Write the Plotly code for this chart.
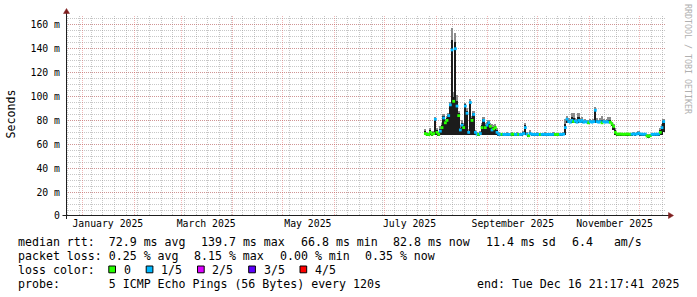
import plotly.graph_objects as go
import pandas as pd

# ---------------- data ----------------
first_day = "2025-07-25 12:00"

rtt_median = [
    69.0, 68.3, 68.2, 70.0, 68.4, 69.0, 81.0, 70.0, 68.3, 71.0,
    74.0, 82.0, 78.0, 80.0, 84.0, 93.0, 139.0, 96.0, 140.0, 92.0,
    84.0, 72.0, 76.0, 74.0, 92.0, 86.0, 70.0, 95.0, 80.0, 85.0,
    70.0, 68.5, 68.3, 69.0, 74.0, 80.0, 74.0, 76.0, 78.0, 75.0,
    72.0, 73.0, 74.0, 70.0, 68.4, 68.3, 68.4, 68.3, 68.2, 68.4,
    68.3, 68.3, 68.4, 68.5, 68.3, 68.4, 68.3, 68.2, 68.4, 69.0,
    74.0, 68.5, 67.2, 69.0, 68.3, 68.4, 68.3, 68.4, 68.3, 68.2,
    68.3, 68.4, 68.3, 68.3, 68.4, 68.2, 68.3, 68.4, 68.3, 68.2,
    68.3, 68.4, 68.3, 68.5, 74.0, 81.0, 79.0, 78.5, 80.0, 79.0,
    79.5, 78.5, 80.0, 79.0, 80.0, 78.5, 79.0, 78.5, 78.0, 79.0,
    78.5, 79.0, 88.5, 79.0, 78.5, 79.0, 78.0, 79.0, 78.5, 79.0,
    78.5, 78.5, 77.0, 75.0, 70.0, 68.6, 68.5, 68.6, 68.5, 68.4,
    68.5, 68.6, 68.5, 68.4, 68.5, 68.6, 68.5, 68.7, 69.3, 68.6,
    68.5, 68.4, 68.5, 67.0, 66.8, 67.2, 68.3, 68.4, 68.5, 68.4,
    68.6, 70.0, 74.0, 79.0,
]

rtt_max = [
    73.0, 70.0, 69.5, 74.0, 69.5, 71.0, 83.0, 74.0, 70.0, 75.0,
    78.0, 85.0, 81.0, 84.0, 86.0, 95.5, 157.0, 104.0, 153.0, 101.0,
    88.0, 76.0, 80.0, 78.0, 95.0, 90.0, 73.0, 98.0, 84.0, 88.0,
    72.0, 70.0, 69.5, 71.0, 78.0, 83.0, 78.0, 79.0, 80.0, 78.0,
    77.0, 76.0, 77.0, 74.0, 70.0, 69.5, 69.5, 69.5, 69.5, 70.0,
    69.5, 69.5, 70.0, 69.5, 69.5, 70.0, 69.5, 69.5, 69.5, 71.0,
    78.0, 70.0, 69.0, 72.0, 69.5, 69.5, 69.5, 70.0, 69.5, 69.5,
    69.5, 69.5, 70.0, 69.5, 69.5, 69.5, 69.5, 70.0, 69.5, 69.5,
    69.5, 69.5, 69.5, 70.0, 81.0, 84.0, 82.0, 81.0, 86.0, 86.0,
    82.0, 81.0, 86.0, 82.0, 82.5, 80.5, 81.0, 80.5, 80.0, 81.0,
    80.5, 81.0, 91.0, 82.0, 80.5, 82.0, 83.5, 81.0, 80.5, 81.0,
    83.0, 82.5, 79.0, 77.0, 74.0, 69.5, 69.5, 69.5, 69.5, 69.5,
    69.5, 69.5, 69.5, 69.5, 69.5, 70.0, 69.5, 70.0, 71.0, 69.5,
    69.5, 69.5, 69.5, 68.5, 68.3, 68.5, 69.5, 69.5, 69.5, 69.5,
    69.5, 74.0, 77.0, 81.0,
]

rtt_min = [
    67.5, 67.5, 67.5, 67.5, 67.5, 67.5, 67.5, 67.5, 67.5, 67.5,
    67.5, 67.5, 67.5, 67.5, 67.5, 67.5, 67.5, 67.5, 67.5, 67.5,
    67.5, 67.5, 67.5, 67.5, 67.5, 67.5, 67.5, 67.5, 67.5, 67.5,
    67.5, 67.5, 67.5, 67.5, 67.5, 67.5, 67.5, 67.5, 67.5, 67.5,
    67.5, 67.5, 67.5, 67.5, 67.5, 67.5, 67.5, 67.5, 67.5, 67.5,
    67.5, 67.5, 67.5, 67.5, 67.5, 67.5, 67.5, 67.5, 67.5, 67.5,
    67.5, 67.5, 66.5, 67.5, 67.5, 67.5, 67.5, 67.5, 67.5, 67.5,
    67.5, 67.5, 67.5, 67.5, 67.5, 67.5, 67.5, 67.5, 67.5, 67.5,
    67.5, 67.5, 67.5, 67.5, 68.0, 78.0, 77.5, 77.5, 77.5, 77.5,
    77.5, 77.5, 77.5, 77.5, 77.5, 77.5, 77.5, 77.5, 77.0, 77.5,
    77.5, 77.5, 77.5, 77.5, 77.5, 77.5, 77.0, 77.5, 77.5, 77.5,
    77.5, 77.5, 75.5, 72.0, 68.0, 67.5, 67.5, 67.5, 67.5, 67.5,
    67.5, 67.5, 67.5, 67.5, 67.5, 67.5, 67.5, 67.5, 67.5, 67.5,
    67.5, 67.5, 67.5, 66.3, 66.0, 66.3, 67.5, 67.5, 67.5, 67.5,
    67.5, 67.5, 68.0, 70.0,
]

# pings lost out of 5 (0 = none)
loss_pings = [
    0, 0, 0, 0, 0, 0, 1, 0, 0, 1,
    0, 1, 0, 0, 1, 1, 1, 0, 1, 1,
    0, 1, 1, 0, 1, 1, 1, 1, 0, 1,
    1, 1, 0, 1, 0, 1, 0, 1, 1, 0,
    1, 0, 0, 1, 1, 1, 0, 1, 1, 1,
    1, 1, 0, 0, 1, 1, 0, 1, 1, 1,
    1, 1, 0, 1, 1, 1, 1, 1, 1, 0,
    1, 1, 1, 1, 1, 1, 1, 1, 0, 0,
    0, 1, 1, 1, 1, 1, 1, 1, 1, 0,
    1, 1, 1, 1, 1, 1, 1, 1, 0, 1,
    1, 1, 1, 1, 1, 1, 0, 1, 1, 1,
    1, 0, 0, 0, 0, 0, 0, 0, 0, 0,
    0, 0, 0, 0, 1, 1, 1, 1, 1, 1,
    1, 1, 1, 0, 0, 0, 1, 1, 1, 1,
    1, 0, 1, 1,
]

loss_labels = ["0", "1/5", "2/5", "3/5", "4/5"]
loss_colors = ["#26ff00", "#00b8ff", "#dd00ff", "#5e00ff", "#ff0000"]

y_tick_values = [0, 20, 40, 60, 80, 100, 120, 140, 160]
y_tick_labels = ["0", "20 m", "40 m", "60 m", "80 m", "100 m", "120 m", "140 m", "160 m"]

month_label_dates = ["2025-01-16", "2025-03-16", "2025-05-16", "2025-07-16",
                     "2025-09-16", "2025-11-16"]
month_labels = ["January 2025", "March 2025", "May 2025", "July 2025",
                "September 2025", "November 2025"]

graph_start = "2024-12-21 21:17:41"
graph_end = "2025-12-16 21:17:41"
y_top = 167.4

median_items = ["median rtt:  72.9 ms avg", "139.7 ms max", "66.8 ms min",
                "82.8 ms now", "11.4 ms sd", "6.4   am/s"]
loss_items = ["packet loss: 0.25 % avg", "8.15 % max", "0.00 % min", "0.35 % now"]
probe_text = "probe:       5 ICMP Echo Pings (56 Bytes) every 120s"
end_text = "end: Tue Dec 16 21:17:41 2025"

# ---------------- layout helpers (pixel geometry) ----------------
L, T, W, H = 66, 16, 600, 200
FIG_W, FIG_H = 697, 297


def px(x):
    return (x - L) / W


def py(y):
    return (T + H - y) / H


MONO = "DejaVu Sans Mono"
FS = 11.6

days = pd.date_range(first_day, periods=len(rtt_median), freq="D")
day_ms = 86400000

smoke_height = [h - lo for h, lo in zip(rtt_max, rtt_min)]
dark_height = [m + 0.45 * (h - m) - lo for m, h, lo in zip(rtt_median, rtt_max, rtt_min)]
median_colors = [loss_colors[k] for k in loss_pings]

fig = go.Figure()
fig.add_trace(go.Bar(x=days, y=smoke_height, base=rtt_min, width=day_ms,
                     marker=dict(color="#8c8c8c", line=dict(width=0)),
                     hoverinfo="skip", showlegend=False))
fig.add_trace(go.Bar(x=days, y=dark_height, base=rtt_min, width=day_ms,
                     marker=dict(color="#1c1c1c", line=dict(width=0)),
                     hoverinfo="skip", showlegend=False))
fig.add_trace(go.Scatter(x=days, y=rtt_median, mode="markers", xaxis="x2",
                         marker=dict(symbol="square", size=2.8, color=median_colors,
                                     line=dict(width=0)),
                         hoverinfo="skip", showlegend=False))

grid_gray = "rgba(143,143,143,0.5)"
grid_red = "rgba(222,80,80,0.42)"
dash = "1px,1px"

fig.update_layout(
    width=FIG_W, height=FIG_H,
    margin=dict(l=L, r=FIG_W - L - W, t=T, b=FIG_H - T - H, pad=0),
    paper_bgcolor="white", plot_bgcolor="white",
    barmode="overlay", bargap=0,
    showlegend=False,
    xaxis=dict(type="date", range=[graph_start, graph_end],
               showticklabels=False, ticks="", showline=False, zeroline=False,
               tick0="2025-01-01", dtick="M1",
               showgrid=True, gridcolor=grid_red, griddash=dash, gridwidth=1,
               minor=dict(tick0="2024-12-23", dtick=7 * day_ms, showgrid=True,
                          gridcolor=grid_gray, griddash=dash, gridwidth=1, ticks="")),
    xaxis2=dict(type="date", range=[graph_start, graph_end], overlaying="x",
                side="bottom", showgrid=False, zeroline=False, showline=False,
                tickmode="array", tickvals=month_label_dates, ticktext=month_labels,
                ticks="", tickfont=dict(family=MONO, size=9.8, color="#000")),
    yaxis=dict(range=[0, y_top], tickmode="array", tickvals=y_tick_values,
               ticktext=y_tick_labels, ticks="", showline=False, zeroline=False,
               showgrid=True, gridcolor=grid_red, griddash=dash, gridwidth=1,
               minor=dict(dtick=5, showgrid=True, gridcolor=grid_gray,
                          griddash=dash, gridwidth=1, ticks=""),
               ticklabelstandoff=5,
               tickfont=dict(family=MONO, size=9.8, color="#000")),
)

# axis lines and arrows
axis_col = "#1f1f1f"
arrow_col = "#7f1f1f"
shapes = [
    dict(type="line", xref="paper", yref="paper", x0=px(66.5), x1=px(66.5),
         y0=py(219), y1=py(12), line=dict(color=axis_col, width=1)),
    dict(type="line", xref="paper", yref="paper", x0=px(62.5), x1=px(670),
         y0=py(215.5), y1=py(215.5), line=dict(color=axis_col, width=1)),
    dict(type="path", xref="paper", yref="paper",
         path="M %f,%f L %f,%f L %f,%f Z" % (px(66.5), py(8.5), px(63.5), py(13.5),
                                             px(69.5), py(13.5)),
         fillcolor=arrow_col, line=dict(color=arrow_col, width=0.5)),
    dict(type="path", xref="paper", yref="paper",
         path="M %f,%f L %f,%f L %f,%f Z" % (px(673.5), py(215.5), px(668.5), py(212.5),
                                             px(668.5), py(218.5)),
         fillcolor=arrow_col, line=dict(color=arrow_col, width=0.5)),
]

annotations = []


def add_text(x, y, text, anchor="left", size=FS, color="#000", angle=0):
    annotations.append(dict(xref="paper", yref="paper", x=px(x), y=py(y),
                            text=text.replace(" ", "\u00a0"), showarrow=False,
                            xanchor=anchor, yanchor="middle", borderpad=0,
                            textangle=angle,
                            font=dict(family=MONO, size=size, color=color)))


median_x = [16.7, 200.0, 299.5, 392.2, 485.0, 570.7]
for xx, t in zip(median_x, median_items):
    add_text(xx, 241.5, t)
loss_x = [16.7, 193.0, 278.7, 364.4]
for xx, t in zip(loss_x, loss_items):
    add_text(xx, 255.5, t)
add_text(16.7, 269.5, "loss color:")
box_x = [108.3, 145.7, 197.0, 248.2, 299.5]
for bx, lab, col in zip(box_x, loss_labels, loss_colors):
    shapes.append(dict(type="rect", xref="paper", yref="paper",
                       x0=px(bx + 0.5), x1=px(bx + 7.2), y0=py(272.8), y1=py(266.0),
                       fillcolor=col, line=dict(color="#000", width=1)))
    add_text(bx + 14.4, 269.5, lab)
add_text(16.7, 283.5, probe_text)
add_text(680.0, 283.5, end_text, anchor="right")

# y title and watermark
add_text(10.5, 114.0, "Seconds", anchor="center", angle=-90)
add_text(688.5, 58.5, "RRDTOOL / TOBI OETIKER", anchor="center", size=8.3,
         color="#b0b0b0", angle=90)

fig.update_layout(shapes=shapes, annotations=annotations)

fig.write_html("out.html", config={"displayModeBar": False})
